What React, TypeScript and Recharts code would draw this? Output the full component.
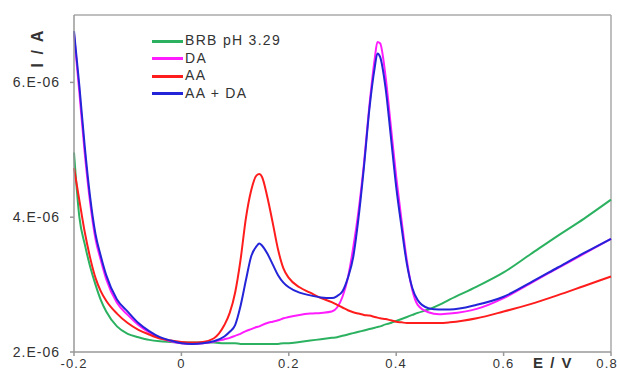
import React from 'react';
import { LineChart, Line, XAxis, YAxis, ReferenceLine, Label } from 'recharts';

// potential (V) and currents (in 1E-06 A)
const potential = [-0.2, -0.19, -0.18, -0.17, -0.16, -0.15, -0.14, -0.12, -0.1, -0.08, -0.06, -0.04, -0.02, 0, 0.02, 0.04, 0.06, 0.08, 0.09, 0.1, 0.11, 0.12, 0.13, 0.14, 0.145, 0.15, 0.16, 0.17, 0.18, 0.19, 0.2, 0.22, 0.24, 0.26, 0.28, 0.29, 0.3, 0.31, 0.32, 0.33, 0.34, 0.35, 0.36, 0.365, 0.37, 0.38, 0.39, 0.4, 0.41, 0.42, 0.43, 0.44, 0.46, 0.48, 0.5, 0.55, 0.6, 0.65, 0.7, 0.75, 0.8];

const brb = [4.96, 4.0, 3.6, 3.27, 3.0, 2.77, 2.6, 2.38, 2.27, 2.22, 2.18, 2.16, 2.15, 2.14, 2.14, 2.14, 2.14, 2.13, 2.13, 2.13, 2.12, 2.12, 2.12, 2.12, 2.12, 2.12, 2.12, 2.12, 2.12, 2.13, 2.13, 2.15, 2.17, 2.19, 2.21, 2.22, 2.24, 2.26, 2.28, 2.3, 2.32, 2.34, 2.36, 2.37, 2.38, 2.41, 2.43, 2.46, 2.49, 2.52, 2.55, 2.58, 2.63, 2.7, 2.78, 2.97, 3.18, 3.45, 3.72, 3.98, 4.26];

const da = [6.72, 5.85, 4.95, 4.22, 3.68, 3.36, 3.08, 2.73, 2.55, 2.4, 2.29, 2.21, 2.16, 2.13, 2.12, 2.13, 2.15, 2.19, 2.21, 2.24, 2.27, 2.31, 2.34, 2.37, 2.38, 2.4, 2.43, 2.45, 2.47, 2.5, 2.52, 2.55, 2.57, 2.58, 2.6, 2.66, 2.82, 3.1, 3.55, 4.1, 4.8, 5.65, 6.35, 6.6, 6.58, 6.1, 5.35, 4.6, 3.95, 3.35, 2.92, 2.7, 2.59, 2.56, 2.57, 2.64, 2.8, 3.02, 3.24, 3.46, 3.68];

const aa = [4.73, 4.25, 3.78, 3.4, 3.1, 2.9, 2.76, 2.57, 2.43, 2.33, 2.26, 2.2, 2.17, 2.15, 2.14, 2.15, 2.2, 2.4, 2.58, 2.88, 3.36, 3.98, 4.4, 4.62, 4.64, 4.6, 4.3, 3.92, 3.52, 3.24, 3.1, 2.96, 2.88, 2.8, 2.74, 2.7, 2.66, 2.62, 2.59, 2.57, 2.55, 2.54, 2.52, 2.51, 2.5, 2.49, 2.47, 2.45, 2.44, 2.43, 2.43, 2.43, 2.43, 2.43, 2.44, 2.5, 2.6, 2.71, 2.84, 2.98, 3.12];

const aaDa = [6.76, 5.95, 5.05, 4.3, 3.75, 3.42, 3.14, 2.78, 2.6, 2.43, 2.31, 2.22, 2.17, 2.13, 2.12, 2.13, 2.16, 2.23, 2.3, 2.4, 2.68, 3.06, 3.42, 3.57, 3.61, 3.58, 3.46, 3.3, 3.14, 3.03, 2.96, 2.88, 2.84, 2.81, 2.8, 2.83, 2.9, 3.1, 3.41, 4.0, 4.75, 5.6, 6.22, 6.43, 6.38, 5.93, 5.2, 4.45, 3.85, 3.3, 2.95, 2.77, 2.65, 2.63, 2.63, 2.7, 2.82, 3.03, 3.25, 3.47, 3.68];

const xTicks = [-0.2, 0, 0.2, 0.4, 0.6, 0.8];
const yTicks = [2, 4, 6];

const series = [
  { key: 'brb', name: 'BRB pH 3.29', color: '#2bb160' },
  { key: 'da', name: 'DA', color: '#ff1cff' },
  { key: 'aa', name: 'AA', color: '#ff1c1c' },
  { key: 'aaDa', name: 'AA + DA', color: '#2424d8' },
];

const data = potential.map((e, i) => ({
  e,
  brb: brb[i],
  da: da[i],
  aa: aa[i],
  aaDa: aaDa[i],
}));

const FONT = '"Liberation Sans", Arial, sans-serif';
const AXIS = '#999';

const LegendBox = () => (
  <div
    style={{
      position: 'absolute',
      left: 152,
      top: 32,
      fontFamily: FONT,
      fontSize: 14,
      letterSpacing: 1.3,
      color: '#333',
      pointerEvents: 'none',
    }}
  >
    {series.map((s) => (
      <div key={s.key} style={{ height: 17.5, lineHeight: '17.5px', whiteSpace: 'nowrap' }}>
        <span
          style={{
            display: 'inline-block',
            width: 31,
            height: 3,
            background: s.color,
            verticalAlign: 'middle',
            marginRight: 2,
          }}
        />
        {s.name}
      </div>
    ))}
  </div>
);

export default function App() {
  return (
    <div style={{ position: 'absolute', left: 0, top: 0, width: 617, height: 372, background: '#fff' }}>
      <LineChart width={617} height={372} data={data} margin={{ top: 15, right: 6, bottom: 0, left: 0 }}>
        <XAxis
          dataKey="e"
          type="number"
          domain={[-0.2, 0.8]}
          ticks={xTicks}
          height={20}
          stroke={AXIS}
          strokeWidth={1.5}
          tickSize={4}
          tickMargin={3}
          tick={{ fill: '#333', fontSize: 13, fontFamily: FONT, letterSpacing: 1.2 }}
          tickFormatter={(v) => String(v)}
        >
          <Label
            content={() => (
              <text x={553} y={368} textAnchor="middle" fill="#333" fontFamily={FONT} fontSize={15} fontWeight="bold" letterSpacing={1.5}>
                E / V
              </text>
            )}
          />
        </XAxis>
        <YAxis
          type="number"
          domain={[2, 7]}
          ticks={yTicks}
          width={74}
          stroke={AXIS}
          strokeWidth={1.5}
          tickSize={4}
          tickMargin={10}
          tick={{ fill: '#333', fontSize: 14, fontFamily: FONT, letterSpacing: 1 }}
          tickFormatter={(v) => `${v}.E-06`}
        >
          <Label
            content={() => (
              <text x={43} y={48} transform="rotate(-90 43 48)" textAnchor="middle" fill="#333" fontFamily={FONT} fontSize={16} fontWeight="bold" letterSpacing={2}>
                I / A
              </text>
            )}
          />
        </YAxis>
        <ReferenceLine y={7} stroke="#aaa" strokeWidth={1.5} />
        <ReferenceLine x={0.8} stroke="#aaa" strokeWidth={1.5} />
        {series.map((s) => (
          <Line
            key={s.key}
            dataKey={s.key}
            name={s.name}
            type="monotone"
            stroke={s.color}
            strokeWidth={2}
            dot={false}
            isAnimationActive={false}
          />
        ))}
      </LineChart>
      <LegendBox />
    </div>
  );
}
